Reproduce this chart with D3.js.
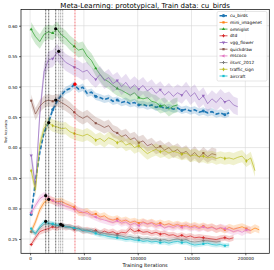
<!DOCTYPE html>
<html>
<head>
<meta charset="utf-8">
<script src="https://cdn.jsdelivr.net/npm/d3@7"></script>
<style>
  body { margin: 0; background: #fff; }
  svg { display: block; font-family: "DejaVu Sans", sans-serif; }
</style>
</head>
<body>
<svg width="274" height="270"></svg>
<script>
const W = 274, H = 270;
const margin = {top: 9.5, right: 4.7, bottom: 16.7, left: 21};

const titleText = 'Meta-Learning: prototypical, Train data: cu_birds';
const xTicks = [0, 50000, 100000, 150000, 200000];
const yTicks = [0.25, 0.30, 0.35, 0.40, 0.45, 0.50, 0.55, 0.60];

// evaluation iterations (shared by every dataset, series stop early)
const iterations = [1000, 5000, 9000, 13000, 17000, 21000, 25000, 29000, 33000, 37000,
  41000, 45000, 49000, 53000, 57000, 61000, 65000, 69000, 73000, 77000,
  81000, 85000, 89000, 93000, 97000, 101000, 105000, 109000, 113000, 117000,
  121000, 125000, 129000, 133000, 137000, 141000, 145000, 149000, 153000, 157000,
  161000, 165000, 169000, 173000, 177000, 181000, 185000, 189000, 193000, 197000,
  201000, 205000, 209000, 213000];

const names = ['cu_birds', 'mini_imagenet', 'omniglot', 'dtd', 'vgg_flower',
  'quickdraw', 'mscoco', 'ilsvrc_2012', 'traffic_sign', 'aircraft'];

const cuBirds = [0.290, 0.345, 0.392, 0.425, 0.441, 0.462, 0.476, 0.486, 0.494, 0.497,
  0.503, 0.496, 0.499, 0.489, 0.491, 0.484, 0.482, 0.479, 0.481, 0.476,
  0.478, 0.474, 0.476, 0.472, 0.474, 0.470, 0.471, 0.468, 0.470, 0.466,
  0.468, 0.464, 0.466, 0.463, 0.465, 0.461, 0.463, 0.460, 0.462, 0.458,
  0.460, 0.457, 0.459, 0.455, 0.457, 0.454, 0.457];
const miniImagenet = [0.262, 0.278, 0.298, 0.310, 0.315, 0.313, 0.311, 0.312, 0.308, 0.305,
  0.302, 0.294, 0.293, 0.295, 0.290, 0.291, 0.286, 0.288, 0.283, 0.281,
  0.283, 0.279, 0.281, 0.277, 0.279, 0.276, 0.278, 0.275, 0.277, 0.274,
  0.276, 0.273, 0.275, 0.272, 0.274, 0.271, 0.273, 0.270, 0.272, 0.269,
  0.271, 0.268, 0.270, 0.266, 0.268, 0.265, 0.269, 0.266, 0.268, 0.270,
  0.267, 0.264, 0.268, 0.265];
const omniglot = [0.594, 0.582, 0.574, 0.586, 0.590, 0.588, 0.595, 0.585, 0.580, 0.572,
  0.566, 0.560, 0.562, 0.550, 0.543, 0.530, 0.520, 0.512, 0.508, 0.502,
  0.497, 0.494, 0.490, 0.486, 0.490, 0.482, 0.480, 0.482, 0.476, 0.474,
  0.468, 0.470, 0.463, 0.468, 0.470];
const dtd = [0.241, 0.252, 0.262, 0.265, 0.267, 0.270, 0.268, 0.272, 0.269, 0.270,
  0.266, 0.268, 0.263, 0.265, 0.262, 0.264, 0.259, 0.263, 0.260, 0.262,
  0.258, 0.261, 0.260, 0.267, 0.262, 0.264, 0.261, 0.262, 0.259, 0.261,
  0.258, 0.259, 0.256, 0.257, 0.254, 0.256, 0.253, 0.255, 0.252, 0.253,
  0.252, 0.251, 0.250, 0.249, 0.251, 0.252, 0.250, 0.252];
const vggFlower = [0.387, 0.335, 0.455, 0.525, 0.544, 0.546, 0.556, 0.548, 0.540, 0.536,
  0.532, 0.529, 0.524, 0.527, 0.518, 0.512, 0.520, 0.510, 0.515, 0.505,
  0.510, 0.500, 0.507, 0.497, 0.503, 0.496, 0.502, 0.493, 0.498, 0.489,
  0.495, 0.486, 0.492, 0.484, 0.490, 0.486, 0.494, 0.484, 0.490, 0.478,
  0.485, 0.472, 0.480, 0.474, 0.482, 0.475, 0.478, 0.470, 0.467];
const quickdraw = [0.477, 0.455, 0.468, 0.475, 0.478, 0.476, 0.478, 0.474, 0.470, 0.465,
  0.458, 0.452, 0.448, 0.452, 0.446, 0.440, 0.437, 0.433, 0.436, 0.427,
  0.424, 0.418, 0.421, 0.413, 0.416, 0.408, 0.411, 0.403, 0.406, 0.399,
  0.402, 0.396, 0.400, 0.393, 0.397, 0.390, 0.394, 0.386, 0.392, 0.384,
  0.391, 0.385, 0.390, 0.388];
const mscoco = [0.293, 0.305, 0.316, 0.321, 0.318, 0.313, 0.309, 0.307, 0.304, 0.302,
  0.299, 0.297, 0.294, 0.292, 0.289, 0.286, 0.283, 0.281, 0.279, 0.277,
  0.280, 0.276, 0.278, 0.273, 0.276, 0.272, 0.277, 0.274, 0.276, 0.271,
  0.273, 0.268, 0.271, 0.269, 0.272, 0.269, 0.271, 0.268, 0.270, 0.267,
  0.270, 0.267, 0.269, 0.266, 0.269, 0.267, 0.265, 0.262, 0.264, 0.261,
  0.265, 0.264];
const ilsvrc2012 = [0.262, 0.260, 0.268, 0.274, 0.275, 0.274, 0.272, 0.273, 0.271, 0.270,
  0.268, 0.267, 0.266, 0.264, 0.265, 0.262, 0.261, 0.259, 0.258, 0.257,
  0.256, 0.255, 0.253, 0.254, 0.252, 0.252, 0.250, 0.251, 0.249, 0.250,
  0.248, 0.249, 0.247, 0.249, 0.250, 0.248, 0.249, 0.246, 0.245, 0.246,
  0.247, 0.247, 0.246, 0.245, 0.246];
const trafficSign = [0.362, 0.330, 0.405, 0.432, 0.441, 0.436, 0.434, 0.431, 0.432, 0.426,
  0.423, 0.421, 0.419, 0.422, 0.418, 0.412, 0.415, 0.410, 0.416, 0.413,
  0.408, 0.411, 0.404, 0.407, 0.400, 0.403, 0.396, 0.390, 0.394, 0.397,
  0.393, 0.395, 0.391, 0.394, 0.392, 0.389, 0.391, 0.386, 0.388, 0.385,
  0.386, 0.383, 0.385, 0.382, 0.384, 0.382, 0.383, 0.381, 0.384, 0.386,
  0.378, 0.383, 0.362];
const aircraft = [0.267, 0.258, 0.270, 0.278, 0.276, 0.275, 0.273, 0.272, 0.270, 0.269,
  0.268, 0.266, 0.264, 0.263, 0.262, 0.259, 0.257, 0.256, 0.254, 0.253,
  0.252, 0.251, 0.249, 0.250, 0.248, 0.248, 0.246, 0.247, 0.245, 0.246,
  0.244, 0.245, 0.243, 0.245, 0.246, 0.244, 0.245, 0.242, 0.240, 0.241,
  0.242, 0.243, 0.241, 0.240, 0.241, 0.239, 0.240];

// spread of the shaded band (half width, accuracy units)
const spread = [0.006, 0.006, 0.012, 0.005, 0.014, 0.010, 0.006, 0.004, 0.010, 0.004];

// best checkpoint of each dataset (vertical markers)
const bestIter = [41700, 17300, 23800, 30300, 26600, 23800, 14500, 28400, 17300, 14500];
const bestAcc = [0.504, 0.315, 0.595, 0.272, 0.558, 0.478, 0.321, 0.274, 0.441, 0.279];

const values = [cuBirds, miniImagenet, omniglot, dtd, vggFlower,
  quickdraw, mscoco, ilsvrc2012, trafficSign, aircraft];

const colors = d3.schemeCategory10;
const symbols = [d3.symbolCircle, d3.symbolSquare, d3.symbolTriangle, d3.symbolCross,
  d3.symbolTriangle, d3.symbolSquare, d3.symbolTriangle, d3.symbolCross,
  d3.symbolDiamond, d3.symbolSquare];
const symbolRotate = [0, 0, 0, 0, 180, 0, 270, 0, 0, 0];

const series = names.map((name, k) => ({
  name: name,
  color: colors[k],
  points: values[k].map((v, i) => ({x: iterations[i], y: v, s: spread[k]}))
}));

const svg = d3.select('svg');
const iw = W - margin.left - margin.right;
const ih = H - margin.top - margin.bottom;

const x = d3.scaleLinear().domain([-8460, 222300]).range([margin.left, margin.left + iw]);
const y = d3.scaleLinear().domain([0.2265, 0.6266]).range([margin.top + ih, margin.top]);

// grid
const grid = svg.append('g').attr('stroke', '#d9d9d9').attr('stroke-width', 0.6);
grid.selectAll('line.gx').data(xTicks).enter().append('line')
  .attr('x1', d => x(d)).attr('x2', d => x(d))
  .attr('y1', margin.top).attr('y2', margin.top + ih);
grid.selectAll('line.gy').data(yTicks).enter().append('line')
  .attr('y1', d => y(d)).attr('y2', d => y(d))
  .attr('x1', margin.left).attr('x2', margin.left + iw);

const plot = svg.append('g');

const area = d3.area().x(d => x(d.x)).y0(d => y(d.y - d.s)).y1(d => y(d.y + d.s));
const line = d3.line().x(d => x(d.x)).y(d => y(d.y));

series.forEach((s, k) => {
  plot.append('path').datum(s.points)
    .attr('d', area).attr('fill', s.color).attr('fill-opacity', 0.22);
  plot.append('path').datum(s.points)
    .attr('d', line).attr('fill', 'none').attr('stroke', s.color)
    .attr('stroke-width', k === 0 ? 1.6 : 0.7)
    .attr('stroke-dasharray', k === 0 ? '4,2' : null);
  plot.selectAll('path.m' + k).data(s.points.filter((d, i) => i % 5 === 0)).enter()
    .append('path')
    .attr('d', d3.symbol().type(symbols[k]).size(k === 0 ? 7 : 4.5))
    .attr('transform', d => `translate(${x(d.x)},${y(d.y)}) rotate(${symbolRotate[k]})`)
    .attr('fill', s.color);
});

// best-checkpoint lines and dots
const vlines = svg.append('g');
names.forEach((n, k) => {
  vlines.append('line')
    .attr('x1', x(bestIter[k])).attr('x2', x(bestIter[k]))
    .attr('y1', margin.top).attr('y2', margin.top + ih)
    .attr('stroke', k === 0 ? '#e8000b' : '#000')
    .attr('stroke-opacity', k === 0 ? 0.9 : 0.55)
    .attr('stroke-width', 0.6)
    .attr('stroke-dasharray', '2,1');
});
names.forEach((n, k) => {
  vlines.append('circle')
    .attr('cx', x(bestIter[k])).attr('cy', y(bestAcc[k])).attr('r', 1.6)
    .attr('fill', k === 0 ? '#ff0000' : '#000');
});

// frame
svg.append('rect')
  .attr('x', margin.left).attr('y', margin.top).attr('width', iw).attr('height', ih)
  .attr('fill', 'none').attr('stroke', '#000').attr('stroke-width', 0.7);

// axes
const xAxis = svg.append('g').attr('transform', `translate(0,${margin.top + ih})`)
  .call(d3.axisBottom(x).tickValues(xTicks).tickFormat(d3.format('d')).tickSize(2).tickPadding(1.5));
const yAxis = svg.append('g').attr('transform', `translate(${margin.left},0)`)
  .call(d3.axisLeft(y).tickValues(yTicks).tickFormat(d3.format('.2f')).tickSize(2).tickPadding(1.5));
[xAxis, yAxis].forEach(a => {
  a.select('.domain').remove();
  a.selectAll('line').attr('stroke', '#000').attr('stroke-width', 0.6);
  a.selectAll('text').attr('font-size', 4.2).attr('font-family', 'DejaVu Sans').attr('fill', '#000');
});

// labels
svg.append('text').attr('x', margin.left + iw / 2).attr('y', 8.3)
  .attr('text-anchor', 'middle').attr('font-size', 7).text(titleText);
svg.append('text').attr('x', margin.left + iw / 2).attr('y', 266.5)
  .attr('text-anchor', 'middle').attr('font-size', 5).text('Training Iterations');
svg.append('text').attr('transform', `translate(6.5,${margin.top + ih / 2}) rotate(-90)`)
  .attr('text-anchor', 'middle').attr('font-size', 3.4).text('Test Accuracy');

// legend
const lg = svg.append('g');
lg.append('rect').attr('x', 217).attr('y', 11.5).attr('width', 50).attr('height', 69.5)
  .attr('rx', 1.5).attr('fill', '#fff').attr('fill-opacity', 0.85)
  .attr('stroke', '#cccccc').attr('stroke-width', 0.5);
series.forEach((s, k) => {
  const ly = 15.7 + k * 6.7;
  lg.append('line').attr('x1', 219.5).attr('x2', 227.5).attr('y1', ly).attr('y2', ly)
    .attr('stroke', s.color).attr('stroke-width', k === 0 ? 1.4 : 0.8)
    .attr('stroke-dasharray', k === 0 ? '3,1.5' : null);
  lg.append('path')
    .attr('d', d3.symbol().type(symbols[k]).size(k === 0 ? 8 : 5))
    .attr('transform', `translate(223.5,${ly}) rotate(${symbolRotate[k]})`)
    .attr('fill', s.color);
  lg.append('text').attr('x', 230).attr('y', ly).attr('dy', '0.35em')
    .attr('font-size', 4.3).text(s.name);
});
</script>
</body>
</html>
